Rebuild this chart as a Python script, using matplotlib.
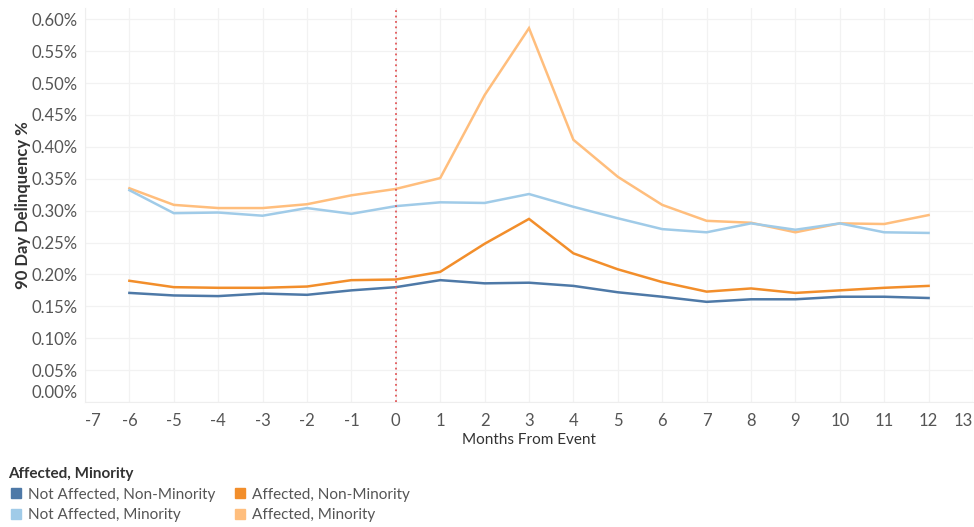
import matplotlib
matplotlib.use("Agg")
import matplotlib.pyplot as plt
import matplotlib.transforms as mtransforms
from matplotlib.lines import Line2D

months = list(range(-6, 13))

# 90 day delinquency, in percent
not_aff_non_min = [0.171, 0.167, 0.166, 0.170, 0.168, 0.175, 0.180, 0.191, 0.186, 0.187,
                   0.182, 0.172, 0.165, 0.157, 0.161, 0.161, 0.165, 0.165, 0.163]
not_aff_min = [0.332, 0.296, 0.297, 0.292, 0.304, 0.295, 0.307, 0.313, 0.312, 0.326,
               0.306, 0.288, 0.271, 0.266, 0.280, 0.270, 0.280, 0.266, 0.265]
aff_non_min = [0.190, 0.180, 0.179, 0.179, 0.181, 0.191, 0.192, 0.204, 0.248, 0.287,
               0.233, 0.208, 0.188, 0.173, 0.178, 0.171, 0.175, 0.179, 0.182]
aff_min = [0.335, 0.309, 0.304, 0.304, 0.310, 0.324, 0.334, 0.351, 0.481, 0.586,
           0.411, 0.353, 0.309, 0.284, 0.281, 0.266, 0.280, 0.279, 0.293]

labels = ["Not Affected, Non-Minority", "Not Affected, Minority",
          "Affected, Non-Minority", "Affected, Minority"]
colors = ["#4E79A7", "#A0CBE8", "#F28E2B", "#FFBE7D"]
series = [not_aff_non_min, not_aff_min, aff_non_min, aff_min]

x_ticks = list(range(-7, 14))
y_ticks = [0.00, 0.05, 0.10, 0.15, 0.20, 0.25, 0.30, 0.35, 0.40, 0.45, 0.50, 0.55, 0.60]

plt.rcParams['font.family'] = ['Lato', 'DejaVu Sans']
plt.rcParams['axes.unicode_minus'] = False

fig = plt.figure(figsize=(9.74, 5.27), dpi=100)
ax = fig.add_axes([85 / 974, 1 - 402 / 527, 888 / 974, 394 / 527])

# draw order: light lines under dark ones
for idx in [3, 1, 2, 0]:
    ax.plot(months, series[idx], color=colors[idx], lw=1.8, solid_joinstyle='miter', zorder=3)

ax.axvline(0, color="#E15759", lw=1.3, ls=(0, (1, 2)), zorder=4)

ax.set_xlim(-7, 13)
ax.set_ylim(0, 0.6176)
ax.set_xticks(x_ticks)
ax.set_yticks(y_ticks)
ax.set_yticklabels([f"{v:.2f}%" for v in y_ticks])
ax.grid(True, color="#f2f2f2", lw=0.9, zorder=0)
ax.tick_params(length=0, labelsize=12, colors="#555555", pad=8)
ax.tick_params(axis='y', pad=5)

for side in ["top", "right"]:
    ax.spines[side].set_visible(False)
for side in ["left", "bottom"]:
    ax.spines[side].set_color("#eeeeee")

# edge labels nudged inward like the original
ylabs = ax.get_yticklabels()
ylabs[0].set_transform(ylabs[0].get_transform() +
                       mtransforms.ScaledTranslation(0, 10 / 100, fig.dpi_scale_trans))
xlabs = ax.get_xticklabels()
xlabs[0].set_transform(xlabs[0].get_transform() +
                       mtransforms.ScaledTranslation(8 / 100, 0, fig.dpi_scale_trans))
xlabs[-1].set_transform(xlabs[-1].get_transform() +
                        mtransforms.ScaledTranslation(-10 / 100, 0, fig.dpi_scale_trans))

ax.set_xlabel("Months From Event", fontsize=11, color="#333333", labelpad=3)
ax.set_ylabel("90 Day Delinquency %", fontsize=12, color="#333333", fontweight='bold', labelpad=1)

handles = [Line2D([], [], ls='none', marker='s', markersize=7, color=c) for c in colors]
leg = fig.legend(handles, labels, ncol=2, loc='upper left', bbox_to_anchor=(2 / 974, 1 - 461 / 527),
                 frameon=False, fontsize=11, title="Affected, Minority",
                 title_fontproperties={'size': 11, 'weight': 'bold'},
                 handletextpad=0.3, columnspacing=1.1, labelspacing=0.42,
                 handlelength=1.0, borderaxespad=0)
leg._legend_box.align = "left"
leg.get_title().set_color("#333333")
for t in leg.get_texts():
    t.set_color("#555555")

fig.savefig("out.png", dpi=100)
